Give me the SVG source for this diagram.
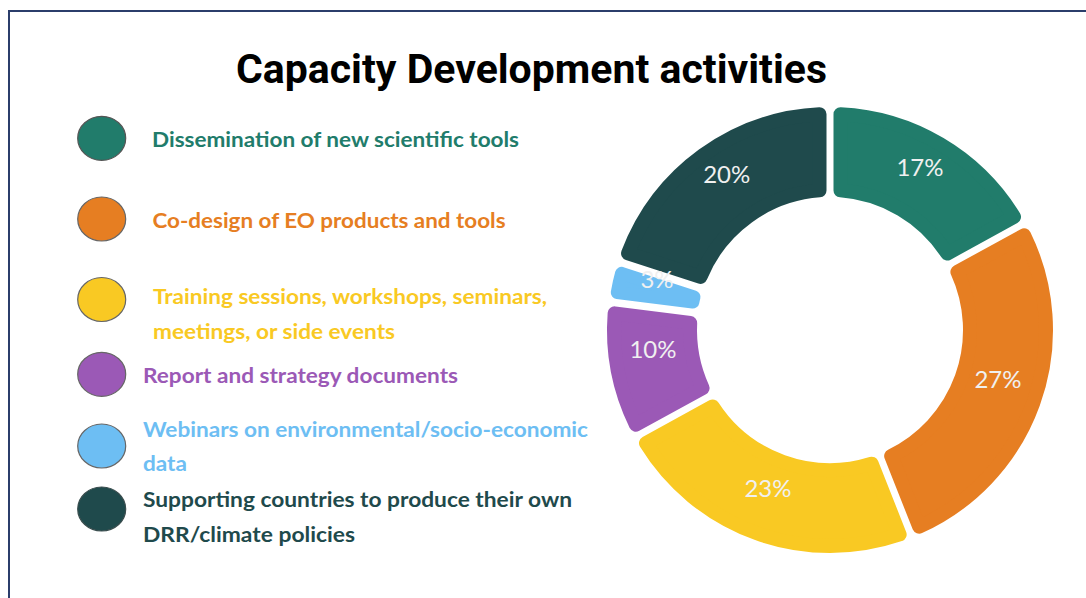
<svg xmlns="http://www.w3.org/2000/svg" width="1086" height="598" viewBox="0 0 1086 598">
<style>
.frame{fill:none;stroke:#2b3d6b;stroke-width:2}
.title{font-family:Roboto,"Liberation Sans",sans-serif;font-weight:700;font-size:40px;fill:#000}
.leg{font-family:Lato,"Open Sans","Liberation Sans",sans-serif;font-weight:700;font-size:21px}
.dot{stroke:#666;stroke-width:1.2}
.seg{stroke-width:14;stroke-linejoin:round}
.pct{font-family:Lato,"Open Sans","Liberation Sans",sans-serif;font-size:24px;fill:#f0f0f0;text-anchor:middle}
.c1{fill:#217c6b;stroke:#217c6b}
.c2{fill:#e67e22;stroke:#e67e22}
.c3{fill:#f9c923;stroke:#f9c923}
.c4{fill:#9b59b6;stroke:#9b59b6}
.c5{fill:#6dbef3;stroke:#6dbef3}
.c6{fill:#1f4a4c;stroke:#1f4a4c}
.t1{fill:#217c6b}.t2{fill:#e67e22}.t3{fill:#f9c923}.t4{fill:#9b59b6}.t5{fill:#6dbef3}.t6{fill:#1f4a4c}
</style>
<rect width="1086" height="598" fill="#fff"/>
<path class="frame" d="M9 598 V11 H1086"/>
<text class="title" x="236" y="82.7" textLength="591" lengthAdjust="spacingAndGlyphs">Capacity Development activities</text>

<g id="legend-dissemination">
<ellipse class="dot c1" cx="101.7" cy="138.3" rx="24" ry="22" style="stroke:#555"/>
<text class="leg t1" x="152" y="147.3" textLength="367" lengthAdjust="spacingAndGlyphs">Dissemination of new scientific tools</text>
</g>
<g id="legend-codesign">
<ellipse class="dot c2" cx="101.7" cy="219" rx="24" ry="22" style="stroke:#666"/>
<text class="leg t2" x="152.5" y="228.3" textLength="353" lengthAdjust="spacingAndGlyphs">Co-design of EO products and tools</text>
</g>
<g id="legend-training">
<ellipse class="dot c3" cx="101.7" cy="299.5" rx="24" ry="22" style="stroke:#666"/>
<text class="leg t3" x="153" y="303.5" textLength="394" lengthAdjust="spacingAndGlyphs">Training sessions, workshops, seminars,</text>
<text class="leg t3" x="153" y="338.5" textLength="242" lengthAdjust="spacingAndGlyphs">meetings, or side events</text>
</g>
<g id="legend-report">
<ellipse class="dot c4" cx="101.7" cy="374.3" rx="24" ry="22" style="stroke:#666"/>
<text class="leg t4" x="143" y="382.7" textLength="315" lengthAdjust="spacingAndGlyphs">Report and strategy documents</text>
</g>
<g id="legend-webinars">
<ellipse class="dot c5" cx="101.7" cy="446" rx="24" ry="22" style="stroke:#666"/>
<text class="leg t5" x="143" y="436.7" textLength="445" lengthAdjust="spacingAndGlyphs">Webinars on environmental/socio-economic</text>
<text class="leg t5" x="143" y="470.7" textLength="44" lengthAdjust="spacingAndGlyphs">data</text>
</g>
<g id="legend-supporting">
<ellipse class="dot c6" cx="101.7" cy="509" rx="24" ry="22" style="stroke:#3a4d4e"/>
<text class="leg t6" x="143" y="506.7" textLength="429" lengthAdjust="spacingAndGlyphs">Supporting countries to produce their own</text>
<text class="leg t6" x="143" y="541.7" textLength="212" lengthAdjust="spacingAndGlyphs">DRR/climate policies</text>
</g>

<g id="seg-dissemination">
<path class="seg c1" d="M840.50 114.25 A216 216 0 0 1 1014.01 216.86 L947.28 253.54 A140 140 0 0 0 840.50 190.39 Z"/>
<text class="pct" x="920" y="176">17%</text>
</g>
<g id="seg-codesign">
<path class="seg c2" d="M1024.11 235.26 A216 216 0 0 1 919.19 526.73 L891.15 455.94 A140 140 0 0 0 957.40 271.94 Z"/>
<text class="pct" x="998" y="388.3">27%</text>
</g>
<g id="seg-training">
<path class="seg c3" d="M899.66 534.46 A216 216 0 0 1 645.99 443.14 L712.72 406.46 A140 140 0 0 0 871.63 463.67 Z"/>
<text class="pct" x="768" y="497.3">23%</text>
</g>
<g id="seg-report">
<path class="seg c4" d="M635.89 424.74 A216 216 0 0 1 614.64 313.37 L690.18 322.92 A140 140 0 0 0 702.60 388.06 Z"/>
<text class="pct" x="653" y="358.3">10%</text>
</g>
<g id="seg-supporting">
<path class="seg c6" d="M628.06 253.35 A216 216 0 0 1 819.50 114.25 L819.50 190.39 A140 140 0 0 0 700.47 276.87 Z"/>
<text class="pct" x="726.7" y="183.3">20%</text>
</g>
<g id="seg-webinars">
<path class="seg c5" d="M617.27 292.54 A216 216 0 0 1 621.57 273.32 L693.98 296.85 A140 140 0 0 0 692.81 302.09 Z" style="stroke-width:13"/>
<text class="pct" x="657" y="288">3%</text>
</g>
<g id="connectors"/>
</svg>
